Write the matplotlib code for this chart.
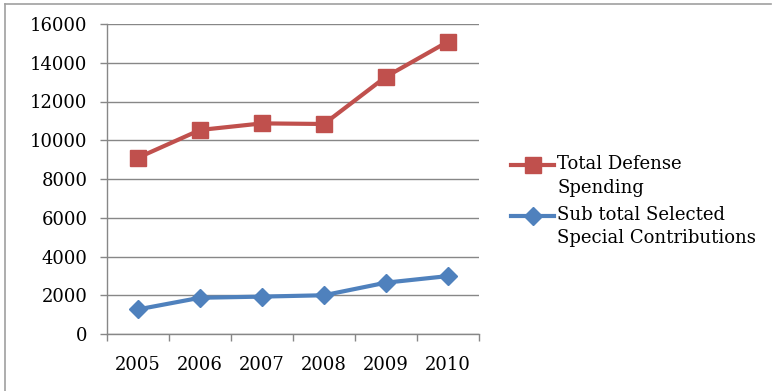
import matplotlib
matplotlib.use("Agg")
import matplotlib.pyplot as plt
import matplotlib.transforms as mtransforms
from matplotlib.lines import Line2D
from matplotlib.legend_handler import HandlerLine2D

years = ["2005", "2006", "2007", "2008", "2009", "2010"]
total_defense = [9100, 10530, 10870, 10840, 13280, 15090]
special_contrib = [1270, 1870, 1930, 2000, 2650, 2990]
y_ticks = [0, 2000, 4000, 6000, 8000, 10000, 12000, 14000, 16000]

RED = "#C0504D"
BLUE = "#4F81BD"
GRID = "#878787"

plt.rcParams["font.family"] = ["DejaVu Serif"]

W, H = 772, 391
fig = plt.figure(figsize=(W / 100, H / 100), dpi=100)
ax = fig.add_axes([107 / W, 1 - 334 / H, (479 - 107) / W, (334 - 24) / H])

x = list(range(len(years)))
ax.plot(x, special_contrib, color=BLUE, lw=3, marker="D", ms=9,
        mfc=BLUE, mec=BLUE, label="Sub total Selected\nSpecial Contributions", zorder=3)
ax.plot(x, total_defense, color=RED, lw=3, marker="s", ms=11,
        mfc=RED, mec=RED, label="Total Defense\nSpending", zorder=3)

ax.set_xlim(-0.5, len(years) - 0.5)
ax.set_ylim(0, 16000)
ax.set_yticks(y_ticks)
ax.set_yticklabels([str(v) for v in y_ticks])
ax.yaxis.grid(True, color=GRID, lw=1.0)
ax.set_axisbelow(True)

# category boundaries carry the tick marks, centres carry the labels
ax.set_xticks([i - 0.5 for i in range(len(years) + 1)])
ax.set_xticklabels([])
ax.set_xticks(x, minor=True)
ax.set_xticklabels(years, minor=True)
ax.tick_params(axis="x", which="major", length=5, width=1, color=GRID, direction="out")
ax.tick_params(axis="x", which="minor", length=0, pad=16, labelsize=13)
ax.tick_params(axis="y", length=5, width=1, color=GRID, pad=9, labelsize=13)

for side in ("top", "right"):
    ax.spines[side].set_visible(False)
for side in ("left", "bottom"):
    ax.spines[side].set_color(GRID)
    ax.spines[side].set_linewidth(1.0)


class FirstLineHandler(HandlerLine2D):
    """Legend key aligned with the first line of a two-line label."""

    def __init__(self, shift_pt, **kw):
        super().__init__(**kw)
        self.shift_pt = shift_pt

    def create_artists(self, legend, orig_handle, xdescent, ydescent,
                       width, height, fontsize, trans):
        arts = super().create_artists(legend, orig_handle, xdescent, ydescent,
                                      width, height, fontsize, trans)
        up = mtransforms.Affine2D().translate(0, self.shift_pt) + trans
        for a in arts:
            a.set_transform(up)
        return arts


handles, labels = ax.get_legend_handles_labels()
handles, labels = handles[::-1], labels[::-1]
hmap = {h: FirstLineHandler(8.3) for h in handles}
leg = fig.legend(handles, labels, loc="upper left",
                 bbox_to_anchor=(511 / W, 1 - 155 / H), frameon=False,
                 fontsize=13, handlelength=2.4, handletextpad=0.15,
                 labelspacing=0.5, borderaxespad=0, borderpad=0,
                 handler_map=hmap)
for t in leg.get_texts():
    t.set_linespacing(1.4)

# outer frame: top and left edges only
fig.add_artist(Line2D([5 / W, 771 / W], [1 - 4 / H, 1 - 4 / H], color="#A0A0A0", lw=1.2))
fig.add_artist(Line2D([5 / W, 5 / W], [0, 1 - 4 / H], color="#A0A0A0", lw=1.2))

fig.savefig("out.png", dpi=100)
